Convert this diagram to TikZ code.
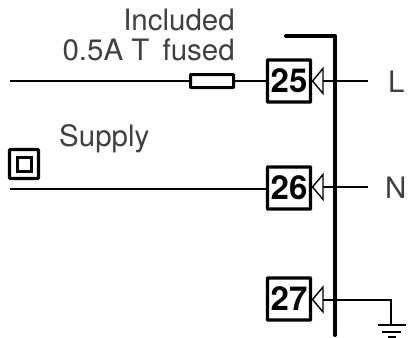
\documentclass[tikz,border=0pt]{standalone}
\usepackage{fontspec}
\setmainfont{TeX Gyre Heros}
\tikzset{
  wire/.style={draw=black,line width=1.2pt},
  heavy/.style={draw=black,line width=4pt,line join=round,line cap=round},
  term/.style={draw=black,line width=3.2pt,rounded corners=0.5pt,minimum width=43pt,minimum height=42pt,inner sep=0pt,font=\fontsize{33}{33}\selectfont\bfseries},
  lab/.style={inner sep=0pt,font=\fontsize{29.5}{30}\selectfont,text=black!75},
  tip/.style={draw=black,line width=1.4pt,fill=white,line join=miter}
}
\begin{document}
\begin{tikzpicture}[x=1pt,y=-1pt]
\useasboundingbox (0,0) rectangle (408,338);
% coordinates
\coordinate (s1) at (10,81);
\coordinate (s2) at (10,189);
\coordinate (r1) at (368,81);
\coordinate (r2) at (368,187);
\coordinate (gt) at (391,300);
\coordinate (gb) at (391,325);
\coordinate (bt0) at (286,36);
\coordinate (bt1) at (335,36);
\coordinate (bb) at (335,335);
% bus bar
\draw[heavy] (bt0) -- (bt1) -- (bb);
% terminals
\node[term] (t25) at (289,81) {25};
\node[term] (t26) at (289,188) {26};
\node[term] (t27) at (289,299) {27};
% fuse
\node[draw=black,line width=3pt,rounded corners=0.5pt,minimum width=43pt,minimum height=13pt,inner sep=0pt,fill=white] (fuse) at (212,81) {};
% wires
\draw[wire] (s1) -- (fuse.west);
\draw[wire] (fuse.east) -- (t25.west);
\draw[wire] (s2) -- (t26.west |- s2);
% contact triangles
\coordinate (c25) at (323,81);
\coordinate (c26) at (323,187);
\coordinate (c27) at (323,300);
\draw[wire] (c25) -- (r1);
\draw[wire] (c26) -- (r2);
\draw[wire] (c27) -- (gt) -- (gb);
\draw[tip] (312.5,81) -- (323,68.5) -- (323,93.5) -- cycle;
\draw[tip] (312.5,187) -- (323,174.5) -- (323,199.5) -- cycle;
\draw[tip] (312.5,299.5) -- (323,287) -- (323,312) -- cycle;
% ground
\coordinate (g1a) at (378,325); \coordinate (g1b) at (406,325);
\coordinate (g2a) at (382,332); \coordinate (g2b) at (401,332);
\coordinate (g3a) at (388,337); \coordinate (g3b) at (396,337);
\draw[line width=1.8pt] (g1a) -- (g1b);
\draw[line width=1.8pt] (g2a) -- (g2b);
\draw[line width=1.8pt] (g3a) -- (g3b);
% double insulation
\node[draw=black,line width=3.4pt,rounded corners=1pt,minimum size=29pt,inner sep=0pt] (di) at (24,164) {};
\node[draw=black,line width=3pt,minimum size=14pt,inner sep=0pt] (di2) at (24.5,164.5) {};
% labels
\node[lab,anchor=base east] (l1) at (235,30) {Included};
\node[lab,anchor=base east] (l2) at (235,60) {0.5A T\hspace{5pt} fused};
\node[lab,anchor=base west] (l3) at (59,146) {Supply};
\node[lab,anchor=base west] (l4) at (388,92) {L};
\node[lab,anchor=base west] (l5) at (385,198) {N};
\end{tikzpicture}
\end{document}
